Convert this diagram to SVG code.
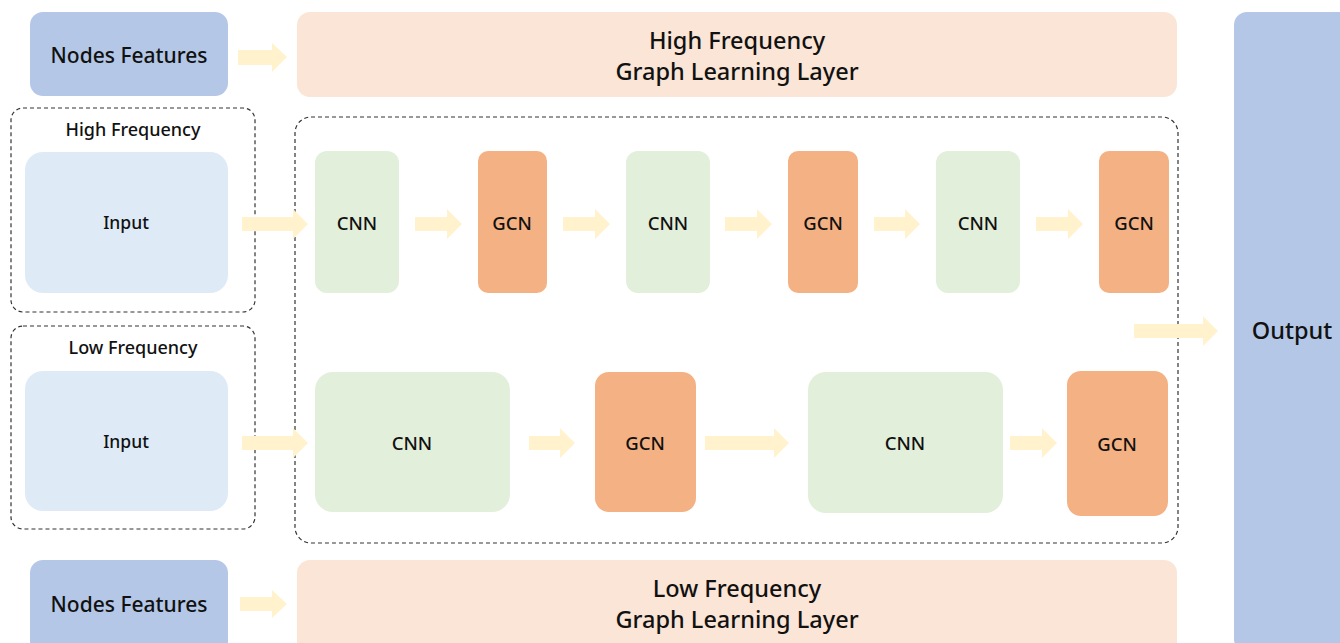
<svg xmlns="http://www.w3.org/2000/svg" width="1340" height="643" viewBox="0 0 1340 643">
<style>
.t{font-family:"Noto Sans","Liberation Sans",sans-serif;fill:#111;text-anchor:middle;dominant-baseline:central;font-weight:500}
.nf{fill:#b4c7e7}
.layer{fill:#fbe5d6}
.cnn{fill:#e2efda}
.gcn{fill:#f4b183}
.inp{fill:#deebf7}
.dash{fill:none;stroke:#333;stroke-width:1.2;stroke-dasharray:4 3}
.arr{fill:#fff2cc}
</style>
<rect width="1340" height="643" fill="#fff"/>
<g id="nodes-features-top"><rect class="nf" x="30" y="12" width="198" height="84" rx="13"/><text class="t" x="129" y="55" font-size="21">Nodes Features</text></g>
<g id="hf-layer"><rect class="layer" x="297" y="12" width="880" height="85" rx="13"/><text class="t" x="737" y="40" font-size="23.5">High Frequency</text><text class="t" x="737" y="71" font-size="23.5">Graph Learning Layer</text></g>
<g id="output"><rect class="nf" x="1234" y="12" width="120" height="640" rx="13"/><text class="t" x="1292" y="330" font-size="23.5">Output</text></g>
<g id="hf-group"><rect class="dash" x="11" y="108" width="244" height="204" rx="12"/><text class="t" x="133" y="129" font-size="18">High Frequency</text></g>
<g id="hf-input"><rect class="inp" x="25" y="152" width="203" height="141" rx="18"/><text class="t" x="126" y="222" font-size="17.5">Input</text></g>
<g id="lf-group"><rect class="dash" x="11" y="326" width="244" height="203" rx="12"/><text class="t" x="133" y="347" font-size="18">Low Frequency</text></g>
<g id="lf-input"><rect class="inp" x="25" y="371" width="203" height="140" rx="18"/><text class="t" x="126" y="441" font-size="17.5">Input</text></g>
<g id="main-group"><rect class="dash" x="295" y="117" width="883" height="426" rx="16"/></g>
<g id="h-cnn1"><rect class="cnn" x="315" y="151" width="84" height="142" rx="12"/><text class="t" x="357" y="222" font-size="18.5">CNN</text></g>
<g id="h-gcn1"><rect class="gcn" x="478" y="151" width="69" height="142" rx="10"/><text class="t" x="512" y="222" font-size="18.5">GCN</text></g>
<g id="h-cnn2"><rect class="cnn" x="626" y="151" width="84" height="142" rx="12"/><text class="t" x="668" y="222" font-size="18.5">CNN</text></g>
<g id="h-gcn2"><rect class="gcn" x="788" y="151" width="70" height="142" rx="10"/><text class="t" x="823" y="222" font-size="18.5">GCN</text></g>
<g id="h-cnn3"><rect class="cnn" x="936" y="151" width="84" height="142" rx="12"/><text class="t" x="978" y="222" font-size="18.5">CNN</text></g>
<g id="h-gcn3"><rect class="gcn" x="1099" y="151" width="70" height="142" rx="10"/><text class="t" x="1134" y="222" font-size="18.5">GCN</text></g>
<g id="l-cnn1"><rect class="cnn" x="315" y="372" width="195" height="140" rx="18"/><text class="t" x="412" y="442" font-size="18.5">CNN</text></g>
<g id="l-gcn1"><rect class="gcn" x="595" y="372" width="101" height="140" rx="14"/><text class="t" x="645" y="442" font-size="18.5">GCN</text></g>
<g id="l-cnn2"><rect class="cnn" x="808" y="372" width="195" height="141" rx="18"/><text class="t" x="905" y="442" font-size="18.5">CNN</text></g>
<g id="l-gcn2"><rect class="gcn" x="1067" y="371" width="101" height="145" rx="14"/><text class="t" x="1117" y="443" font-size="18.5">GCN</text></g>
<g id="nodes-features-bottom"><rect class="nf" x="30" y="560" width="198" height="95" rx="13"/><text class="t" x="129" y="604" font-size="21">Nodes Features</text></g>
<g id="lf-layer"><rect class="layer" x="297" y="560" width="880" height="95" rx="13"/><text class="t" x="737" y="588" font-size="23.5">Low Frequency</text><text class="t" x="737" y="619" font-size="23.5">Graph Learning Layer</text></g>
<g id="connectors">
<polygon class="arr" points="238,50 272,50 272,43 287,57 272,72 272,65 238,65"/>
<polygon class="arr" points="240,597 272,597 272,590 287,604 272,618 272,611 240,611"/>
<polygon class="arr" points="242,217 293,217 293,209 308,224 293,239 293,231 242,231"/>
<polygon class="arr" points="415,217 447,217 447,209 462,224 447,239 447,231 415,231"/>
<polygon class="arr" points="563,217 595,217 595,209 610,224 595,239 595,231 563,231"/>
<polygon class="arr" points="725,217 757,217 757,209 772,224 757,239 757,231 725,231"/>
<polygon class="arr" points="874,217 905,217 905,209 920,224 905,239 905,231 874,231"/>
<polygon class="arr" points="1036,217 1068,217 1068,209 1083,224 1068,239 1068,231 1036,231"/>
<polygon class="arr" points="242,436 293,436 293,428 308,443 293,458 293,450 242,450"/>
<polygon class="arr" points="529,436 560,436 560,428 575,443 560,458 560,450 529,450"/>
<polygon class="arr" points="705,436 774,436 774,428 789,443 774,458 774,450 705,450"/>
<polygon class="arr" points="1010,436 1042,436 1042,428 1057,443 1042,458 1042,450 1010,450"/>
<polygon class="arr" points="1134,324 1203,324 1203,316 1218,331 1203,346 1203,338 1134,338"/>
</g>
</svg>
